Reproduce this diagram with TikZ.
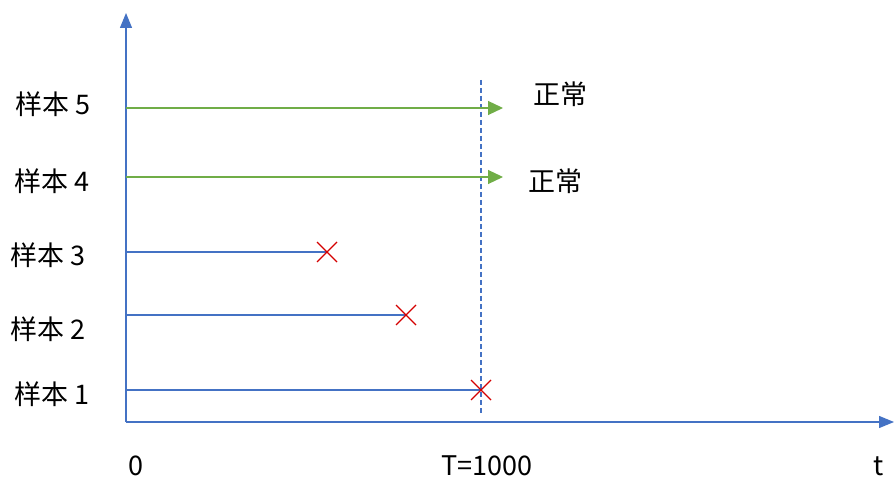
\documentclass[tikz,border=0pt]{standalone}
\usepackage{fontspec}
\setmainfont{Noto Sans CJK SC}
\usetikzlibrary{arrows.meta,calc}
\definecolor{axisblue}{HTML}{4472C4}
\definecolor{okgreen}{HTML}{70AD47}
\definecolor{failred}{HTML}{D40000}
\begin{document}
\begin{tikzpicture}[x=1pt,y=-1pt,
  lbl/.style={font=\fontsize{27}{30}\selectfont, inner sep=0pt, anchor=center},
  axisline/.style={draw=axisblue, line width=1.2pt, -{Triangle[length=15pt,width=12pt]}},
  liveline/.style={draw=okgreen, line width=1.2pt, -{Triangle[length=15pt,width=14pt]}},
  deadline/.style={draw=axisblue, line width=1.2pt},
  crossmark/.style={draw=failred, line width=1.1pt},
  dashline/.style={draw=axisblue, line width=1.2pt, dash pattern=on 5pt off 3pt}]
\useasboundingbox (0,0) rectangle (894,478);
% axes
\coordinate (O) at (126,422);
\coordinate (Ytop) at (126,13);
\coordinate (Xend) at (894,422);
\draw[axisline] (O) -- (Ytop);
\draw[axisline] (O) -- (Xend);
% dashed T line
\coordinate (Dtop) at (481,80);
\coordinate (Dbot) at (481,414);
\draw[dashline] (Dtop) -- (Dbot);
% samples 5 and 4 (censored)
\coordinate (s5a) at (126,108); \coordinate (s5b) at (503,108);
\coordinate (s4a) at (126,177); \coordinate (s4b) at (503,177);
\draw[liveline] (s5a) -- (s5b);
\draw[liveline] (s4a) -- (s4b);
% samples 3,2,1 (failures)
\coordinate (s3a) at (126,252); \coordinate (s3b) at (327,252);
\coordinate (s2a) at (126,315); \coordinate (s2b) at (406,315);
\coordinate (s1a) at (126,390); \coordinate (s1b) at (481,390);
\draw[deadline] (s3a) -- (s3b);
\draw[deadline] (s2a) -- (s2b);
\draw[deadline] (s1a) -- (s1b);
\foreach \c in {s3b,s2b,s1b}{
  \draw[crossmark] ($(\c)+(-10,-10)$) -- ($(\c)+(10,10)$);
  \draw[crossmark] ($(\c)+(-10,10)$) -- ($(\c)+(10,-10)$);
}
% labels
\node[lbl] (l5) at (53,104) {样本 5};
\node[lbl] (l4) at (52,181) {样本 4};
\node[lbl] (l3) at (48,255) {样本 3};
\node[lbl] (l2) at (48,329) {样本 2};
\node[lbl] (l1) at (52,394) {样本 1};
\node[lbl] (n5) at (560,94) {正常};
\node[lbl] (n4) at (555,181) {正常};
\node[lbl] (z) at (136,466) {0};
\node[lbl] (T) at (487,466) {T=1000};
\node[lbl] (t) at (879,466) {t};
\end{tikzpicture}
\end{document}
